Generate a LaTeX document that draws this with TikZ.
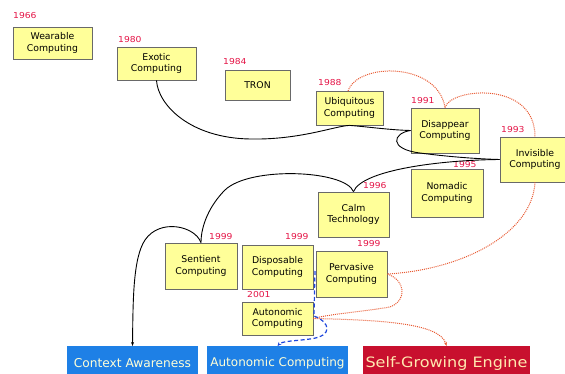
\documentclass[tikz,border=0pt]{standalone}
\usepackage{fontspec}
\setmainfont{DejaVu Sans}
\newfontfamily\widefont[FakeStretch=1.12]{DejaVu Sans}
\usetikzlibrary{arrows.meta}
\definecolor{boxfill}{RGB}{255,255,153}
\definecolor{boxline}{RGB}{105,105,105}
\definecolor{yearred}{RGB}{228,20,70}
\definecolor{dotred}{RGB}{232,90,50}
\definecolor{dashblue}{RGB}{30,70,220}
\definecolor{bluebox}{RGB}{30,128,230}
\definecolor{redbox}{RGB}{200,16,46}
\definecolor{paletext}{RGB}{255,255,215}
\definecolor{creamtext}{RGB}{255,232,175}
\begin{document}
\begin{tikzpicture}[x=1pt,y=-1pt,
  ybox/.style={draw=boxline, line width=0.8pt, fill=boxfill, align=center,
    font=\fontsize{9.3}{11.7}\selectfont, inner sep=0pt},
  year/.style={text=yearred, font=\widefont\fontsize{8.2}{9}\selectfont, anchor=west, inner sep=0pt},
  blink/.style={line width=0.9pt, black},
  rlink/.style={dotred, line width=1pt, dash pattern=on 1pt off 1pt},
  bdash/.style={dashblue, line width=1.2pt, dash pattern=on 4pt off 2.5pt},
  bigbox/.style={draw=none, inner sep=0pt, anchor=north, minimum height=34}]
\useasboundingbox (0,0) rectangle (565,374);
\clip (0,0) rectangle (565,374);

% yellow boxes
\node[ybox, minimum width=79, minimum height=32] (wear) at (52.5,43) {Wearable\\Computing};
\node[ybox, minimum width=79, minimum height=33] (exotic) at (156.5,63.5) {Exotic\\Computing};
\node[ybox, minimum width=65, minimum height=30] (tron) at (257.5,85) {TRON};
\node[ybox, minimum width=67, minimum height=34] (ubiq) at (349.5,108) {Ubiquitous\\Computing};
\node[ybox, minimum width=68, minimum height=45] (disap) at (445,130.5) {Disappear\\Computing};
\node[ybox, minimum width=70, minimum height=45] (invis) at (535,159.5) {Invisible\\Computing};
\node[ybox, minimum width=72, minimum height=48] (nomad) at (447,193) {Nomadic\\Computing};
\node[ybox, minimum width=71, minimum height=45] (calm) at (353.5,214.5) {Calm\\Technology};
\node[ybox, minimum width=72, minimum height=46] (sent) at (201,266) {Sentient\\Computing};
\node[ybox, minimum width=71, minimum height=44] (disp) at (277.5,267) {Disposable\\Computing};
\node[ybox, minimum width=71, minimum height=46] (perv) at (351.5,274) {Pervasive\\Computing};
\node[ybox, minimum width=71, minimum height=33] (auto) at (277.5,318.5) {Autonomic\\Computing};

% years
\node[year] (y66) at (13,16) {1966};
\node[year] (y80) at (118,40) {1980};
\node[year] (y84) at (223,62) {1984};
\node[year] (y88) at (318,83) {1988};
\node[year] (y91) at (411,101) {1991};
\node[year] (y93) at (501,130) {1993};
\node[year] (y95) at (453,165) {1995};
\node[year] (y96) at (363,186) {1996};
\node[year] (y99a) at (209,237) {1999};
\node[year] (y99b) at (285,237) {1999};
\node[year] (y99c) at (357,244) {1999};
\node[year] (y01) at (247,295) {2001};

% bottom boxes
\node[bigbox, fill=bluebox, minimum width=131, text=paletext,
  font=\fontsize{12.2}{13}\selectfont] (ctx) at (132.5,346) {Context Awareness};
\node[bigbox, fill=bluebox, minimum width=141, text=paletext,
  font=\fontsize{12}{13}\selectfont] (aut2) at (277.5,346) {Autonomic Computing};
\node[bigbox, fill=redbox, minimum width=167, text=creamtext,
  font=\widefont\fontsize{14.3}{16}\selectfont] (self) at (446.5,346) {Self-Growing Engine};

% black connectors
\draw[blink] (exotic.south) .. controls (158,105) and (190,138) .. (250,139)
  .. controls (300,140) and (335,126) .. (ubiq.south);
\draw[blink] (ubiq.south) .. controls (370,127) and (390,130) .. (disap.west);
\draw[blink] (disap.west) .. controls (393,133) and (388,149) .. (420,153)
  .. controls (450,157) and (480,159) .. (invis.west);
\draw[blink] (invis.west) .. controls (440,160) and (362,170) .. (calm.north);
\draw[blink] (calm.north) .. controls (345,170) and (250,166) .. (225,190)
  .. controls (210,205) and (201,225) .. (sent.north);
\draw[blink, -{Stealth[length=4pt,width=3pt]}] (sent.north) .. controls (195,226) and (160,218) .. (145,240)
  .. controls (133,258) and (133,300) .. (ctx.north);

% red dotted connectors
\coordinate (ubtop) at (348,91);
\draw[rlink] (ubtop) .. controls (358,62) and (438,62) .. (disap.north);
\draw[rlink] (disap.north) .. controls (450,88) and (535,80) .. (invis.north);
\draw[rlink] (invis.south) .. controls (532,235) and (460,270) .. (perv.east);
\draw[rlink] (perv.east) .. controls (405,280) and (408,300) .. (390,307)
  .. controls (360,312) and (330,314) .. (auto.east);
\draw[rlink, -{Stealth[length=4pt,width=3pt]}] (auto.east) .. controls (380,320) and (440,323) .. (self.north);

% blue dashed connector
\coordinate (bstart) at (315,271);
\draw[bdash, -{Stealth[length=4pt,width=3.5pt]}] (bstart) -- (314,316)
  .. controls (330,322) and (334,336) .. (310,339)
  .. controls (295,341) and (282,341) .. (aut2.north);
\end{tikzpicture}
\end{document}
